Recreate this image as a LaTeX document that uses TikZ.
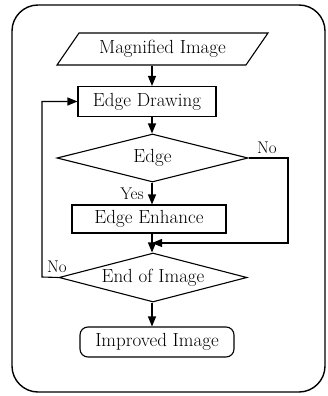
\documentclass[tikz,border=0pt]{standalone}
\usetikzlibrary{shapes.geometric,arrows.meta}
\begin{document}
\begin{tikzpicture}[x=1pt,y=-1pt,
  line width=1.1pt,
  every node/.style={font=\fontsize{19}{22}\selectfont, inner sep=0pt},
  box/.style={draw, rectangle, minimum width=#1, minimum height=30pt},
  dia/.style={draw, diamond, aspect=3.9, minimum width=#1, minimum height=48pt},
  arr/.style={-{Triangle[length=10pt,width=8pt]}},
  lbl/.style={font=\fontsize{17}{20}\selectfont}
]
\useasboundingbox (0,0) rectangle (328,396);
\draw[line width=1.4pt, rounded corners=26pt] (12,5) rectangle (325,392);
\coordinate (spine) at (152,0);
\node[draw, trapezium, trapezium left angle=38, trapezium right angle=142,
      trapezium stretches body, minimum width=211pt, minimum height=32pt] (mag) at (162.5,49) {Magnified Image};
\node[box=138pt] (drw) at (147,101.5) {Edge Drawing};
\node[dia=191pt] (edge) at (152.5,158) {Edge};
\node[box=154pt, minimum height=28pt] (enh) at (149,219) {Edge Enhance};
\node[dia=188pt, minimum height=49pt] (end) at (153,277.5) {End of Image};
\node[draw, rectangle, rounded corners=8pt, minimum width=154pt, minimum height=30pt] (imp) at (157,342) {Improved Image};
\coordinate (rt) at (288,243);
\coordinate (merge) at (152,243);
\coordinate (lt) at (42,277);
\draw[arr] (mag.south -| spine) -- (drw.north -| spine);
\draw[arr] (drw.south -| spine) -- (edge.north -| spine);
\draw[arr] (edge.south -| spine) -- (enh.north -| spine);
\draw[arr] (enh.south -| spine) -- (end.north -| spine);
\draw[arr] (end.south -| spine) -- (imp.north -| spine);
\draw[arr] (edge.east) -| (rt) -- (merge);
\draw[arr] (end.west) -- (lt) |- (drw.west);
\node[lbl] (no1) at (267,148) {No};
\node[lbl] (yes) at (132,194) {Yes};
\node[lbl] (no2) at (57,267) {No};
\end{tikzpicture}
\end{document}
